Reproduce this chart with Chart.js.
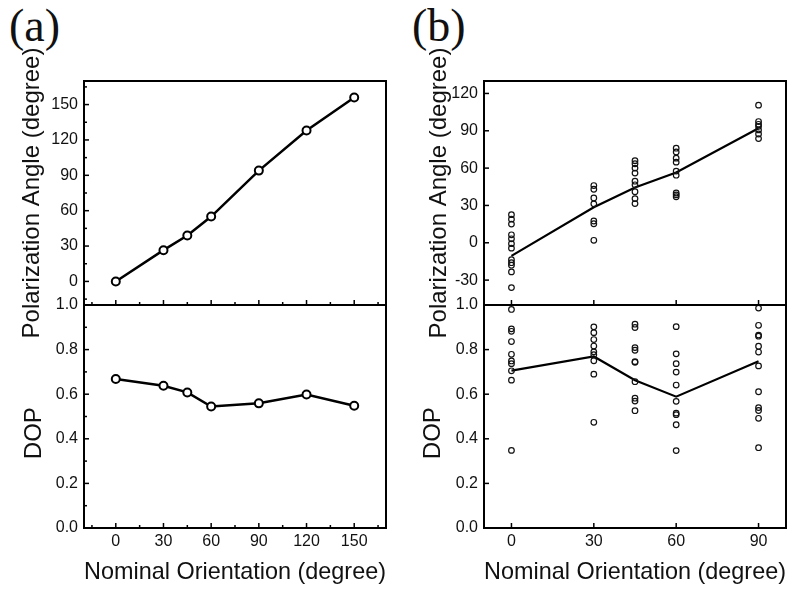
<!DOCTYPE html>
<html lang="en">
<head>
    <meta charset="UTF-8">
    <title>Polarization Angle and DOP</title>
    <script src="https://cdn.jsdelivr.net/npm/chart.js"></script>
    <style>
        body {
            margin: 0;
            background: #fff;
            width: 792px;
            height: 592px;
            overflow: hidden;
            position: relative;
            font-family: 'Liberation Sans', Arial, sans-serif;
        }
        canvas {
            position: absolute;
        }
        .tag {
            position: absolute;
            font-family: 'Liberation Serif', 'Times New Roman', serif;
            font-size: 46px;
            line-height: 46px;
            color: #111;
        }
    </style>
</head>
<body>
    <div class="tag" style="left:9px; top:3px;">(a)</div>
    <div class="tag" style="left:412px; top:3px;">(b)</div>

    <canvas id="aTop" width="396" height="350" style="left:0; top:0;"></canvas>
    <canvas id="aBot" width="396" height="342" style="left:0; top:250px;"></canvas>
    <canvas id="bTop" width="396" height="350" style="left:396px; top:0;"></canvas>
    <canvas id="bBot" width="396" height="342" style="left:396px; top:250px;"></canvas>

    <script>
        // (a) single measurement per nominal orientation
        const nominalA = [0, 30, 45, 60, 90, 120, 150];
        const angleA = [0, 26.5, 39, 55, 94, 128, 156];
        const dopA = [0.668, 0.638, 0.608, 0.545, 0.559, 0.599, 0.548];

        // (b) mean line
        const nominalB = [0, 30, 45, 60, 90];
        const angleMeanB = [-10.5, 28.5, 44.5, 56.5, 92];
        const dopMeanB = [0.706, 0.769, 0.663, 0.589, 0.748];

        // (b) individual measurements, one list per nominal orientation
        const angleAt0 = [22.6, 19, 15, 6.4, 3.2, -0.7, -4.3, -13.6, -16, -18, -23.4, -36];
        const angleAt30 = [46, 43, 36, 31.3, 17.5, 15.3, 2];
        const angleAt45 = [66, 63.5, 60, 56, 49.5, 46.6, 41, 35.5, 31.5];
        const angleAt60 = [76, 73, 68, 64.8, 57.6, 54.3, 40, 38.5, 37];
        const angleAt90 = [110.6, 97.4, 95.2, 93.6, 90.7, 87.4, 83.7];

        const dopAt0 = [0.98, 0.893, 0.882, 0.836, 0.779, 0.749, 0.737, 0.705, 0.663, 0.348];
        const dopAt30 = [0.902, 0.876, 0.845, 0.816, 0.790, 0.777, 0.750, 0.690, 0.474];
        const dopAt45 = [0.914, 0.899, 0.809, 0.797, 0.746, 0.743, 0.656, 0.582, 0.569, 0.526];
        const dopAt60 = [0.903, 0.781, 0.737, 0.699, 0.641, 0.568, 0.515, 0.508, 0.463, 0.347];
        const dopAt90 = [0.986, 0.909, 0.865, 0.860, 0.815, 0.789, 0.727, 0.611, 0.540, 0.527, 0.492, 0.360];

        // tick labels
        const ticksNominalA = [0, 30, 60, 90, 120, 150];
        const ticksNominalB = [0, 30, 60, 90];
        const ticksAngleA = [0, 30, 60, 90, 120, 150];
        const ticksAngleB = [-30, 0, 30, 60, 90, 120];
        const ticksDop = [0, 0.2, 0.4, 0.6, 0.8, 1.0];

        const angleTitle = "Polarization Angle (degree)";
        const dopTitle = "DOP";
        const xTitle = "Nominal Orientation (degree)";

        const ink = "#111";
        const tickFont = { family: "'Liberation Sans', Arial, sans-serif", size: 16 };
        const titleFont = { family: "'Liberation Sans', Arial, sans-serif", size: 24 };

        const pairs = (xs, ys) => xs.map((x, i) => ({ x: x, y: ys[i] }));
        const column = (x, ys) => ys.map(y => ({ x: x, y: y }));
        const setTicks = (list) => (s) => { s.ticks = list.map(v => ({ value: v })); };

        // box around the plot area plus inward ticks on bottom and left edges
        const frameTicks = {
            id: 'frameTicks',
            afterDatasetsDraw(chart, args, opts) {
                const ctx = chart.ctx;
                const a = chart.chartArea;
                ctx.save();
                ctx.strokeStyle = "#000";
                ctx.lineWidth = 1.5;
                const xs = chart.scales.x;
                const ys = chart.scales.y;
                const drawX = (v, len) => {
                    const p = xs.getPixelForValue(v);
                    ctx.beginPath();
                    ctx.moveTo(p, a.bottom);
                    ctx.lineTo(p, a.bottom - len);
                    ctx.stroke();
                };
                const drawY = (v, len) => {
                    const p = ys.getPixelForValue(v);
                    ctx.beginPath();
                    ctx.moveTo(a.left, p);
                    ctx.lineTo(a.left + len, p);
                    ctx.stroke();
                };
                const minorOf = (scale) => {
                    const t = scale.ticks.map(k => k.value);
                    if (t.length < 2) return [];
                    const half = (t[1] - t[0]) / 2;
                    const out = [];
                    for (let v = t[0] - half; v <= scale.max + 1e-9; v += half * 2) {
                        if (v >= scale.min - 1e-9) out.push(v);
                    }
                    return out;
                };
                xs.ticks.forEach(k => drawX(k.value, 5));
                ys.ticks.forEach(k => drawY(k.value, 5));
                if (opts.minorX) minorOf(xs).forEach(v => drawX(v, 3));
                if (opts.minorY) minorOf(ys).forEach(v => drawY(v, 3));
                ctx.lineWidth = 2;
                ctx.strokeRect(a.left, a.top, a.right - a.left, a.bottom - a.top);
                ctx.restore();
            }
        };

        function makeChart(id, cfg) {
            const xAxis = {
                type: 'linear',
                min: cfg.xMin,
                max: cfg.xMax,
                grid: { display: false, drawTicks: false },
                border: { display: false },
                afterBuildTicks: setTicks(cfg.xTicks),
                ticks: {
                    display: cfg.showX,
                    padding: 4,
                    color: ink,
                    font: tickFont
                },
                title: {
                    display: cfg.showX,
                    text: xTitle,
                    color: ink,
                    font: titleFont,
                    padding: { top: 0, bottom: 5 }
                },
                afterFit: s => { s.height = cfg.xHeight; }
            };
            const yAxis = {
                type: 'linear',
                min: cfg.yMin,
                max: cfg.yMax,
                grid: { display: false, drawTicks: false },
                border: { display: false },
                afterBuildTicks: setTicks(cfg.yTicks),
                ticks: {
                    padding: 6,
                    color: ink,
                    font: tickFont,
                    callback: cfg.yFormat
                },
                title: {
                    display: true,
                    text: cfg.yTitle,
                    color: ink,
                    font: titleFont,
                    padding: { top: cfg.titlePad, bottom: 0 }
                },
                afterFit: s => { s.width = cfg.yWidth; }
            };
            return new Chart(document.getElementById(id), {
                type: 'scatter',
                data: { datasets: cfg.datasets },
                options: {
                    responsive: false,
                    animation: false,
                    layout: { padding: cfg.pad },
                    plugins: {
                        legend: { display: false },
                        tooltip: { enabled: false },
                        frameTicks: { minorX: cfg.minor, minorY: cfg.minor }
                    },
                    scales: { x: xAxis, y: yAxis }
                },
                plugins: [frameTicks]
            });
        }

        const lineStyleA = {
            showLine: true,
            borderColor: "#000",
            borderWidth: 2.5,
            pointRadius: 4,
            pointBorderWidth: 2,
            pointBorderColor: "#000",
            pointBackgroundColor: "#fff"
        };
        const meanStyleB = {
            showLine: true,
            borderColor: "#000",
            borderWidth: 2.2,
            pointRadius: 0
        };
        const dotStyleB = {
            pointRadius: 2.8,
            pointBorderWidth: 1.2,
            pointBorderColor: "#111",
            pointBackgroundColor: "rgba(0,0,0,0)"
        };

        const angleColumnsB = [angleAt0, angleAt30, angleAt45, angleAt60, angleAt90];
        const dopColumnsB = [dopAt0, dopAt30, dopAt45, dopAt60, dopAt90];

        const fixed1 = v => Number(v).toFixed(1);

        makeChart('aTop', {
            xMin: -20, xMax: 170, xTicks: ticksNominalA, showX: false, xHeight: 0,
            yMin: -20, yMax: 170, yTicks: ticksAngleA, yTitle: angleTitle, titlePad: 18,
            yWidth: 84, pad: { top: 81, right: 10, bottom: 45, left: 0 },
            minor: true,
            datasets: [Object.assign({ data: pairs(nominalA, angleA) }, lineStyleA)]
        });

        makeChart('aBot', {
            xMin: -20, xMax: 170, xTicks: ticksNominalA, showX: true, xHeight: 64,
            yMin: 0, yMax: 1, yTicks: ticksDop, yTitle: dopTitle + "     ", titlePad: 20,
            yFormat: fixed1,
            yWidth: 84, pad: { top: 55, right: 10, bottom: 0, left: 0 },
            minor: true,
            datasets: [Object.assign({ data: pairs(nominalA, dopA) }, lineStyleA)]
        });

        makeChart('bTop', {
            xMin: -10, xMax: 100, xTicks: ticksNominalB, showX: false, xHeight: 0,
            yMin: -50, yMax: 130, yTicks: ticksAngleB, yTitle: angleTitle, titlePad: 29,
            yWidth: 88, pad: { top: 81, right: 6, bottom: 45, left: 0 },
            minor: false,
            datasets: angleColumnsB.map((ys, i) => Object.assign({ data: column(nominalB[i], ys) }, dotStyleB))
                .concat([Object.assign({ data: pairs(nominalB, angleMeanB) }, meanStyleB)])
        });

        makeChart('bBot', {
            xMin: -10, xMax: 100, xTicks: ticksNominalB, showX: true, xHeight: 64,
            yMin: 0, yMax: 1, yTicks: ticksDop, yTitle: dopTitle + "     ", titlePad: 23,
            yFormat: fixed1,
            yWidth: 88, pad: { top: 55, right: 6, bottom: 0, left: 0 },
            minor: false,
            datasets: dopColumnsB.map((ys, i) => Object.assign({ data: column(nominalB[i], ys) }, dotStyleB))
                .concat([Object.assign({ data: pairs(nominalB, dopMeanB) }, meanStyleB)])
        });
    </script>
</body>
</html>
